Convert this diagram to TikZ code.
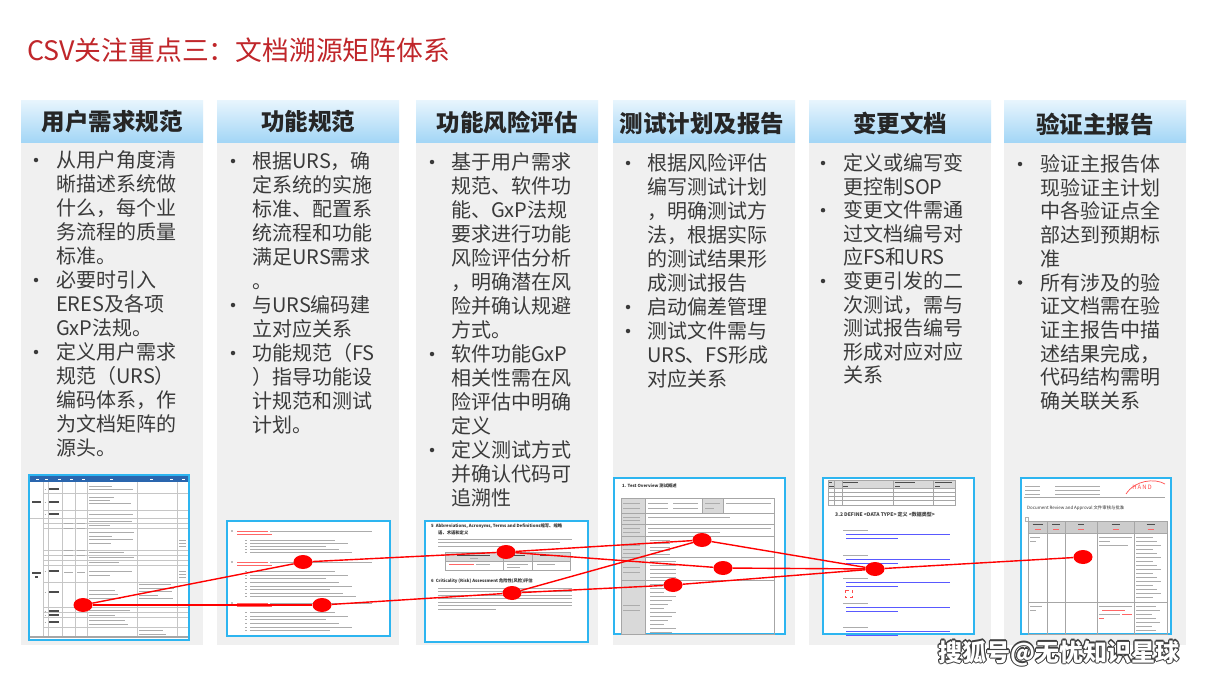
\documentclass[tikz,border=0pt]{standalone}
\usepackage{fontspec}
\setmainfont{Noto Sans CJK SC}
\usetikzlibrary{shapes.geometric}
\definecolor{titlered}{HTML}{C0262A}
\definecolor{hdrtop}{HTML}{E8F5FD}
\definecolor{hdrbot}{HTML}{A3D6F6}
\definecolor{bodygray}{HTML}{F0F0F0}
\definecolor{thumbblue}{HTML}{2DB5F0}
\definecolor{txtgray}{HTML}{3A3A3A}
\definecolor{xlsblue}{HTML}{2A66AE}
\tikzset{
  hdr/.style={top color=hdrtop, bottom color=hdrbot, draw=none},
  bodybox/.style={fill=bodygray, draw=none},
  hdrtext/.style={font=\fontsize{23.5}{26}\selectfont\bfseries, text=black!85, inner sep=0},
  ln/.style={anchor=base west, inner sep=0, font=\fontsize{20}{24}\selectfont, text=txtgray},
  bul/.style={circle, fill=txtgray, inner sep=0, minimum size=4.5pt},
  thumb/.style={draw=thumbblue, line width=1.6pt, fill=white},
  grid/.style={draw=gray!45, line width=0.5pt},
  bar/.style={draw=gray!65, line width=0.9pt},
  bbar/.style={draw=black!70, line width=1.1pt},
  rbar/.style={draw=red!60, line width=0.8pt},
  blbar/.style={draw=blue!65, line width=0.9pt},
  tinyt/.style={inner sep=0, anchor=west, font=\fontsize{4.3}{5}\selectfont\bfseries, text=black!80},
  dot/.style={ellipse, fill=red, inner sep=0, minimum width=19pt, minimum height=14pt},
  link/.style={draw=red, line width=1.4pt},
  wm/.style={font=\fontsize{24}{26}\selectfont\bfseries, inner sep=0},
}
\begin{document}
\begin{tikzpicture}[x=1pt,y=-1pt]
\useasboundingbox (0,0) rectangle (1209,680);
\fill[white] (0,0) rectangle (1209,680);

% title
\node[anchor=west, inner sep=0, font=\fontsize{26.8}{28}\selectfont, text=titlered] (title) at (27,50) {CSV关注重点三：文档溯源矩阵体系};

% column boxes
\foreach \x [count=\i] in {21,217,416,613,809,1004}{
  \fill[bodybox] (\x,142) rectangle (\x+182,645);
  \shade[hdr] (\x,100) rectangle (\x+182,142);
}
\node[hdrtext] (h1) at (112,122) {用户需求规范};
\node[hdrtext] (h2) at (308,122) {功能规范};
\node[hdrtext] (h3) at (507,122) {功能风险评估};
\node[hdrtext] (h4) at (702,124) {测试计划及报告};
\node[hdrtext] (h5) at (900,123) {变更文档};
\node[hdrtext] (h6) at (1095,124) {验证主报告};

% column 1
\foreach \t [count=\i] in {从用户角度清,晰描述系统做,什么，每个业,务流程的质量,标准。,必要时引入,ERES及各项,GxP法规。,定义用户需求,规范（URS）,编码体系，作,为文档矩阵的,源头。}
  \node[ln] (a\i) at (56,167.5+24*\i-24) {\t};
\foreach \r [count=\i] in {1,6,9} \node[bul] (ab\i) at (36,160+24*\r-24) {};

% column 2
\foreach \t [count=\i] in {根据URS，确,定系统的实施,标准、配置系,统流程和功能,满足URS需求,。,与URS编码建,立对应关系,功能规范（FS,）指导功能设,计规范和测试,计划。}
  \node[ln] (b\i) at (252,168.5+24*\i-24) {\t};
\foreach \r [count=\i] in {1,7,9} \node[bul] (bb\i) at (233,161+24*\r-24) {};

% column 3
\foreach \t [count=\i] in {基于用户需求,规范、软件功,能、GxP法规,要求进行功能,风险评估分析,，明确潜在风,险并确认规避,方式。,软件功能GxP,相关性需在风,险评估中明确,定义,定义测试方式,并确认代码可,追溯性}
  \node[ln] (c\i) at (451,169.5+24*\i-24) {\t};
\foreach \r [count=\i] in {1,9,13} \node[bul] (cb\i) at (432,162+24*\r-24) {};

% column 4
\foreach \t [count=\i] in {根据风险评估,编写测试计划,，明确测试方,法，根据实际,的测试结果形,成测试报告,启动偏差管理,测试文件需与,URS、FS形成,对应关系}
  \node[ln] (d\i) at (647,170.5+24*\i-24) {\t};
\foreach \r [count=\i] in {1,7,8} \node[bul] (db\i) at (628,163+24*\r-24) {};

% column 5
\foreach \t [count=\i] in {定义或编写变,更控制SOP,变更文件需通,过文档编号对,应FS和URS,变更引发的二,次测试，需与,测试报告编号,形成对应对应,关系}
  \node[ln] (e\i) at (843,170.5+23.6*\i-23.6) {\t};
\foreach \r [count=\i] in {1,3,6} \node[bul] (eb\i) at (823,163+23.6*\r-23.6) {};

% column 6
\foreach \t [count=\i] in {验证主报告体,现验证主计划,中各验证点全,部达到预期标,准,所有涉及的验,证文档需在验,证主报告中描,述结果完成，,代码结构需明,确关联关系}
  \node[ln] (f\i) at (1040,171.5+23.7*\i-23.7) {\t};
\foreach \r [count=\i] in {1,6} \node[bul] (fb\i) at (1020,164+23.7*\r-23.7) {};

% ---------- thumbnail 1 (spreadsheet)
\draw[thumb] (29,475) rectangle (189,640);
\fill[xlsblue] (30,476) rectangle (188,482);
\foreach \x in {36,45,58,70,82,110,150,170,182} \draw[white, line width=0.8pt] (\x,479) -- (\x+3,479);
\foreach \x in {43,48,62,75,87,137,177} \draw[grid] (\x,482) -- (\x,636);
\foreach \y in {493,510,523,528,550,555,560,565,582,607,612,617,627} \draw[grid] (43,\y) -- (188,\y);
\draw[grid] (30,518) -- (188,518);
\draw[draw=gray!70, line width=1.5pt] (30,637) -- (188,637);
\draw[bbar] (32,502) -- (41,502); \draw[bbar] (32,573) -- (41,573); \draw[bbar] (35,577) -- (38,577);
\foreach \y in {489,502,514,571,592,611,615,622} {\draw[bbar] (49,\y) -- (59,\y); \draw[bar] (44.5,\y) -- (46,\y);}
\foreach \y in {486,489,497,500,503,514,521,525,532,536,539,543,552,557,562,571,575,590,594,598,610,615,620,624}
  \draw[bar] (89,\y) -- ({110+mod(\y*7,25)},\y);
\foreach \y in {584,588,591,595,598,630,634} \draw[bar] (139,\y) -- ({158+mod(\y*5,17)},\y);
\foreach \y in {540,543,546,571,574,577} \draw[bar] (179,\y) -- (186,\y);
\foreach \y in {523,528,550,555,572} {\draw[bar] (64,\y) -- (73,\y); \draw[bar] (77,\y) -- (85,\y);}

% ---------- thumbnail 2 (bullet list)
\draw[thumb] (227,521) rectangle (390,636);
\foreach \y/\n/\s in {531/5/3, 562/8/3.6, 603/6/3.6}{
  \fill[gray] (232,\y) circle (0.8pt);
  \draw[rbar] (237,\y) -- (268,\y);
  \draw[bar] (270,\y) -- (372,\y);
  \draw[rbar] (237,\y+3.6) -- (272,\y+3.6);
  \foreach \k in {1,...,\n}{
    \draw[bar] (245,\y+6+\s*\k) -- (247,\y+6+\s*\k);
    \draw[bar] (250,\y+6+\s*\k) -- ({322+mod(\k*13,35)},\y+6+\s*\k);
  }
}

% ---------- thumbnail 3 (definitions)
\draw[thumb] (425,521) rectangle (588,642);
\node[tinyt] (t3a) at (431,526) {5\ \ Abbreviations, Acronyms, Terms and Definitions缩写、缩略};
\node[tinyt] (t3b) at (438,532.5) {语、术语和定义};
\foreach \y/\e in {539/572,542.5/560,546/512} \draw[bar] (438,\y) -- (\e,\y);
\fill[gray!30] (445,552) rectangle (570,561);
\draw[grid, draw=gray!70] (445,552) rectangle (570,570);
\draw[grid, draw=gray!70] (503,552) -- (503,570) (532,552) -- (532,570) (445,561) -- (570,561);
\draw[bbar, line width=0.8pt] (457,555) -- (490,555); \draw[bar] (470,558.5) -- (478,558.5);
\draw[bbar, line width=0.8pt] (512,555) -- (525,555); \draw[bbar, line width=0.8pt] (540,555) -- (560,555);
\draw[rbar] (449,564) -- (474,564); \draw[bar] (476,564) -- (490,564);
\draw[bar] (507,564) -- (528,564); \draw[bar] (507,567.5) -- (520,567.5); \draw[bar] (537,564) -- (555,564);
\node[tinyt] (t3c) at (431,581) {6\ \ Criticality (Risk) Assessment 危险性(风险)评估};
\foreach \y/\e in {588/572,591.5/572,595/572,598.5/572,602/572,605.5/572,609/496} \draw[bar] (438,\y) -- (\e,\y);

% ---------- thumbnail 4 (test overview)
\draw[thumb] (614,478) rectangle (785,634);
\node[tinyt] (t4a) at (622,486) {1. Test Overview 测试概述};
\fill[gray!30] (621,498) rectangle (645,634);
\fill[gray!30] (702,498) rectangle (723,513);
\draw[grid, draw=gray!70] (621,498) rectangle (774,634);
\draw[grid, draw=gray!70] (645,498) -- (645,634) (702,498) -- (702,513) (723,498) -- (723,513);
\foreach \y in {513,524,536,557,580} \draw[grid, draw=gray!70] (621,\y) -- (774,\y);
\foreach \y in {503,508,517,520,528,532,545,549,553,567,572,605,610} \draw[bar] (623,\y) -- (640,\y);
\foreach \y in {503,508} {\draw[bar] (648,\y) -- (668,\y); \draw[bar] (673,\y) -- (698,\y);}
\draw[bar] (705,503) -- (720,503); \draw[bar] (705,508) -- (714,508); \draw[bar] (726,503) -- (771,503);
\draw[bar] (648,517) -- (730,517);
\draw[bar] (648,528) -- (771,528); \draw[bar] (648,532) -- (720,532);
\foreach \y in {540,543.5,547,550.5,554} \draw[bar] (650,\y) -- (670,\y);
\foreach \y in {561,565,569,573,577} \draw[bar] (650,\y) -- (676,\y);
\foreach \y in {584,588,592,596,600,604,608,612,616,620,624,628,632} \draw[bar] (650,\y) -- ({664+mod(\y*3,16)},\y);

% ---------- thumbnail 5 (data type)
\draw[thumb] (823,478) rectangle (974,634);
\fill[gray!30] (828,480) rectangle (955,488);
\draw[grid, draw=gray!70] (828,480) rectangle (955,505);
\foreach \x in {834,842,893,933} \draw[grid, draw=gray!70] (\x,480) -- (\x,505);
\foreach \y in {488,492,496,500} \draw[grid, draw=gray!70] (828,\y) -- (955,\y);
\foreach \x/\e in {829/832,843/858,895/915,935/952} {\draw[bbar, line width=0.6pt] (\x,482.5) -- (\e,482.5); \draw[bbar, line width=0.8pt] (\x,486) -- ({\x+5},486);}
\node[inner sep=0, anchor=west, font=\fontsize{5}{6}\selectfont\bfseries, text=black!75] (t5a) at (835,515) {3.2 DEFINE <DATA TYPE> 定义 <数据类型>};
\foreach \y in {530,555,578,603,627}{
  \draw[bar] (843,\y) -- (868,\y);
  \draw[blbar] (846,\y+4.5) -- (950,\y+4.5);
  \draw[blbar] (846,\y+8.5) -- (898,\y+8.5);
}
\draw[red!70, dashed, line width=0.5pt] (845,590) rectangle (852,597);

% ---------- thumbnail 6 (review & approval)
\draw[thumb] (1021,478) rectangle (1171,634);
\foreach \y in {486,490,494} {\draw[bar, line width=0.6pt] (1025,\y) -- (1040,\y); \draw[bar, line width=0.6pt] (1055,\y) -- (1100,\y);}
\node[inner sep=0, font=\fontsize{6}{7}\selectfont, text=red!70] (logo) at (1142,487) {H\,A\,N\,D};
\draw[red!70, line width=0.7pt] (1126,494) .. controls (1135,480) and (1155,478) .. (1165,484);
\draw[gray!70, line width=0.6pt] (1024,497.5) -- (1165,497.5);
\node[inner sep=0, anchor=west, font=\fontsize{4.4}{5}\selectfont, text=black!80] (t6a) at (1027,508) {Document Review and Approval 文件审核与批准};
\draw[gray!60] (1025,517) rectangle (1028,521);
\fill[gray!40] (1028,521) rectangle (1167,533);
\draw[grid, draw=gray!70] (1028,521) rectangle (1167,634);
\foreach \x in {1047,1065,1097,1134} \draw[grid, draw=gray!70] (\x,521) -- (\x,634);
\draw[grid, draw=gray!70] (1028,533) -- (1167,533) (1028,602) -- (1167,602);
\foreach \x/\w in {1037.5/5,1056/4,1081/3,1115.5/4,1150.5/4} {\draw[bbar, line width=0.6pt] (\x-\w,524.5) -- (\x+\w,524.5); \draw[rbar] (\x-3,529.5) -- (\x+3,529.5);}
\draw[bar] (1030,537) -- (1040,537); \draw[bar] (1030,541) -- (1036,541);
\foreach \y/\e in {537/1132,541/1110,545/1128} \draw[bar] (1099,\y) -- (\e,\y);
\foreach \y in {537,541,545,549,553,557,561,565,569,573,577,581,585,589,593,597} \draw[bar] (1136,\y) -- ({1150+mod(\y*7,12)},\y);
\draw[bar] (1030,606) -- (1042,606); \draw[bar] (1030,610) -- (1036,610);
\draw[bar] (1099,606) -- (1132,606); \draw[rbar] (1102,610) -- (1125,610); \draw[bar] (1099,614) -- (1120,614); \draw[rbar] (1122,614) -- (1132,614); \draw[rbar] (1099,618) -- (1104,618);
\foreach \y in {606,610,614,618,622,626,630} \draw[bar] (1136,\y) -- ({1150+mod(\y*7,12)},\y);

% ---------- red traceability dots and links
\node[dot] (d1) at (83,605) {};
\node[dot] (d2) at (303,562) {};
\node[dot] (d3) at (322,605) {};
\node[dot] (d4) at (506,552) {};
\node[dot] (d5) at (512,593) {};
\node[dot] (d6) at (702,540) {};
\node[dot] (d7) at (723,568) {};
\node[dot] (d8) at (673,585) {};
\node[dot] (d9) at (875,569) {};
\node[dot] (d10) at (1083,557) {};
\draw[link] (d1) -- (d2);
\draw[link] (d1) -- (d3);
\draw[link] (d2) -- (d4);
\draw[link] (d3) -- (d5);
\draw[link] (d4) -- (d6);
\draw[link] (d4) -- (d7);
\draw[link] (d5) -- (d6);
\draw[link] (d5) -- (d8);
\draw[link] (d6) -- (d9);
\draw[link] (d7) -- (d9);
\draw[link] (d8) -- (d9);
\draw[link] (d9) -- (d10);

% ---------- watermark
\foreach \dx/\dy [count=\i] in {-1.2/0,1.2/0,0/-1.2,0/1.2,-0.9/-0.9,0.9/0.9,-0.9/0.9,0.9/-0.9}
  \node[wm, text=black!75] (wms\i) at (1059+\dx,653+\dy) {搜狐号@无忧知识星球};
\node[wm, text=white] (wm) at (1059,653) {搜狐号@无忧知识星球};
\end{tikzpicture}
\end{document}
